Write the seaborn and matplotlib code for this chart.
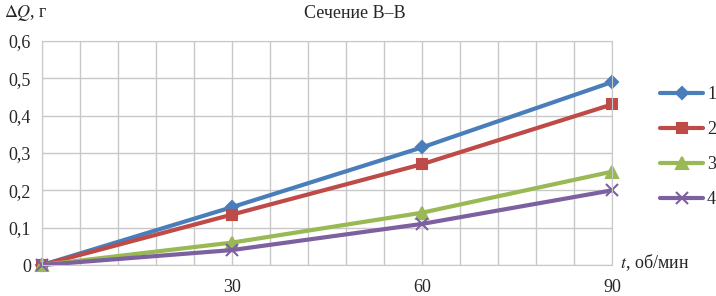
import matplotlib
matplotlib.use('Agg')
import matplotlib.pyplot as plt
import seaborn as sns
import pandas as pd
from matplotlib.ticker import MultipleLocator, FuncFormatter

# data
speed = [0, 30, 60, 90]
s1 = [0, 0.155, 0.315, 0.49]
s2 = [0, 0.135, 0.27, 0.43]
s3 = [0, 0.06, 0.14, 0.25]
s4 = [0, 0.04, 0.11, 0.20]
names = ['1', '2', '3', '4']
colors = ['#4A7EBB', '#BE4B48', '#98B954', '#7D60A0']
markers = ['D', 's', '^', 'x']
msizes = [6.5, 7.5, 8, 8]

df = pd.DataFrame({'t': speed * 4,
                   'dq': s1 + s2 + s3 + s4,
                   'series': [n for n in names for _ in speed]})

sns.set_style('white')
plt.rcParams['font.family'] = ['Liberation Serif', 'DejaVu Serif']

fig = plt.figure(figsize=(7.16, 2.96), dpi=100)
ax = fig.add_axes([42 / 716, 31 / 296, 570 / 716, 224 / 296])

for name, c, m, ms in zip(names, colors, markers, msizes):
    sns.lineplot(data=df[df.series == name], x='t', y='dq', color=c, marker=m,
                 linewidth=3, markersize=ms, markeredgewidth=1.5, markeredgecolor=c,
                 ax=ax, clip_on=False)

ax.set_xlim(0, 90)
ax.set_ylim(0, 0.6)
ax.xaxis.set_major_locator(MultipleLocator(30))
ax.xaxis.set_minor_locator(MultipleLocator(6))
ax.yaxis.set_major_locator(MultipleLocator(0.1))
ax.grid(which='both', color='#c8c8c8', linewidth=1)
ax.set_axisbelow(True)
for sp in ax.spines.values():
    sp.set_color('#c8c8c8')
ax.xaxis.set_major_formatter(FuncFormatter(lambda v, p: '' if v == 0 else f'{v:.0f}'))
ax.yaxis.set_major_formatter(FuncFormatter(lambda v, p: '0' if abs(v) < 1e-9 else f'{v:.1f}'.replace('.', ',')))
ax.tick_params(axis='x', which='both', length=0, pad=10, labelsize=13)
ax.tick_params(axis='y', length=0, pad=8, labelsize=13)
ax.set_xlabel('')
ax.set_ylabel('')

fig.text(355 / 716, 1 - 14 / 296, 'Сечение В–В', ha='center', va='center', fontsize=13)
fig.text(4 / 716, 1 - 13 / 296, r'$\Delta\mathit{Q}$, г', ha='left', va='center', fontsize=13,
         math_fontfamily='stix')
fig.text(620 / 716, 1 - 263 / 296, r'$\mathit{t}$, об/мин', ha='left', va='center', fontsize=13,
         math_fontfamily='stix')

handles = [plt.Line2D([], [], color=c, marker=m, linewidth=3, markersize=ms,
                      markeredgecolor=c, markeredgewidth=1.5)
           for c, m, ms in zip(colors, markers, msizes)]
fig.legend(handles, names, loc='center left', bbox_to_anchor=(660 / 716, 1 - 147 / 296),
           frameon=False, fontsize=13, handlelength=2.4, handletextpad=0.2,
           labelspacing=1.0, borderpad=0, borderaxespad=0)

fig.savefig('out.png', dpi=100)
